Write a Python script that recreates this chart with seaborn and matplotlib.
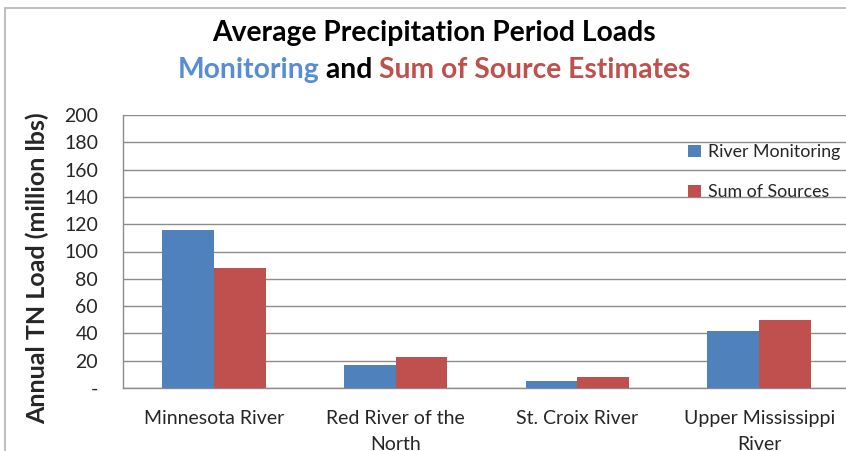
import pandas as pd
import matplotlib
matplotlib.use("Agg")
import matplotlib.pyplot as plt
from matplotlib.lines import Line2D
import seaborn as sns

# Data
rivers = ["Minnesota River", "Red River of the\nNorth", "St. Croix River", "Upper Mississippi\nRiver"]
river_monitoring = [116, 17, 5, 42]
sum_of_sources = [88, 23, 8, 50]
series = ["River Monitoring", "Sum of Sources"]
y_ticks = [0, 20, 40, 60, 80, 100, 120, 140, 160, 180, 200]
y_ticklabels = ["-"] + [str(v) for v in y_ticks[1:]]

blue = "#4F81BD"
red = "#C0504D"
title_blue = "#558ED5"

df = pd.DataFrame({
    "river": rivers * 2,
    "series": [series[0]] * len(rivers) + [series[1]] * len(rivers),
    "load": river_monitoring + sum_of_sources,
})

sns.set_style("white")
plt.rcParams["font.family"] = ["Lato", "DejaVu Sans"]

fig = plt.figure(figsize=(8.46, 4.51), dpi=100)
ax = fig.add_axes([123 / 846, 63 / 451, 727 / 846, 273 / 451])

sns.barplot(data=df, x="river", y="load", hue="series", hue_order=series,
            palette=[blue, red], width=0.57, saturation=1, linewidth=0, ax=ax, zorder=3)

# axes styling
ax.set_ylim(0, 200)
ax.set_xlim(-0.5, len(rivers) - 0.5)
ax.set_yticks(y_ticks)
ax.set_yticklabels(y_ticklabels, fontsize=14, color="#262626")
ax.set_xticks(range(len(rivers)))
ax.set_xticklabels(rivers, fontsize=14, color="#262626", linespacing=1.6)
ax.set_xticks([i + 0.5 for i in range(-1, len(rivers) - 1)], minor=True)
ax.tick_params(axis="x", which="major", length=0, pad=16)
ax.tick_params(axis="x", which="minor", length=6, color="#8c8c8c", width=1)
ax.tick_params(axis="y", length=8, color="#8c8c8c", width=1, pad=10)
ax.yaxis.grid(True, color="#8c8c8c", linewidth=1, zorder=0)
ax.set_axisbelow(True)
for side in ["top", "right"]:
    ax.spines[side].set_visible(False)
for side in ["left", "bottom"]:
    ax.spines[side].set_color("#8c8c8c")
    ax.spines[side].set_linewidth(1)
ax.set_xlabel("")
ax.set_ylabel("Annual TN Load (million lbs)", fontsize=18, fontweight="bold",
              va="center", ha="center")
ax.yaxis.set_label_coords(-0.117, 0.44)

# legend
handles, labels = ax.get_legend_handles_labels()
ax.legend(handles, labels, loc="upper left", bbox_to_anchor=(681 / 846, 1 - 137 / 451),
          bbox_transform=fig.transFigure, frameon=False, fontsize=12.8,
          handlelength=0.7, handleheight=0.7, handletextpad=0.4, labelspacing=1.35,
          borderaxespad=0)

# title, first line
fig.text(434 / 846, 1 - 33 / 451, "Average Precipitation Period Loads", ha="center", va="center",
         fontsize=20.3, fontweight="bold", color="black")

# title, second line in three colours
pieces = [("Monitoring", title_blue), (" and ", "black"), ("Sum of Source Estimates", red)]
renderer = fig.canvas.get_renderer()
parts = []
for txt, col in pieces:
    t = fig.text(0, 1 - 70 / 451, txt, ha="left", va="center", fontsize=20.3,
                 fontweight="bold", color=col)
    parts.append(t)
widths = [t.get_window_extent(renderer).width for t in parts]
x = 434 - sum(widths) / 2
for t, w in zip(parts, widths):
    t.set_x(x / 846)
    x += w

# outer chart border (top and left)
fig.add_artist(Line2D([5 / 846, 5 / 846], [0, 1 - 8 / 451], color="#bfbfbf", linewidth=1.5,
                      transform=fig.transFigure))
fig.add_artist(Line2D([5 / 846, 1], [1 - 8 / 451, 1 - 8 / 451], color="#bfbfbf", linewidth=1.5,
                      transform=fig.transFigure))

fig.savefig("out.png", dpi=100)
